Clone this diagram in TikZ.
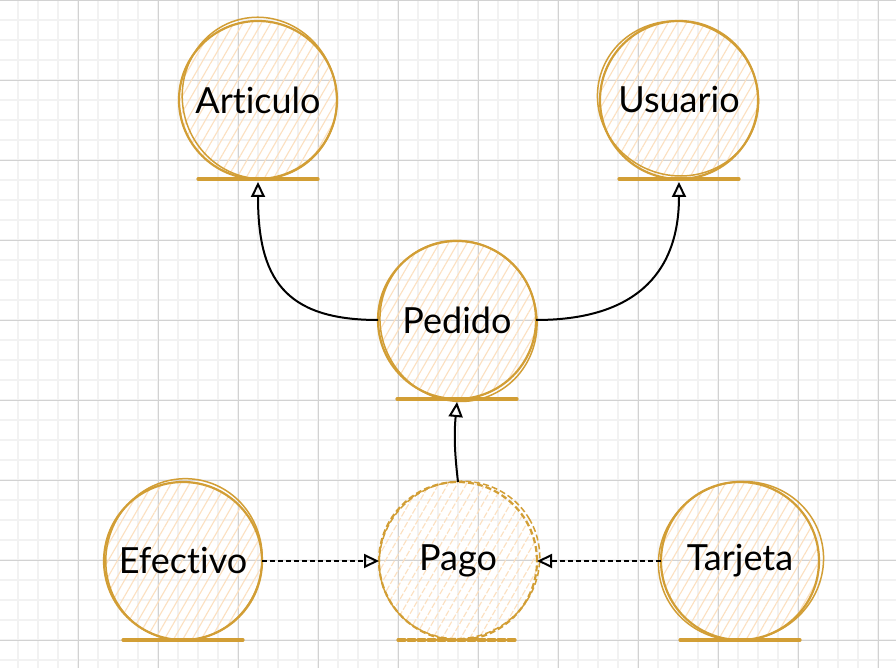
\documentclass[tikz,border=0pt]{standalone}
\usepackage{fontspec}
\setmainfont{Lato}[Ligatures=CommonOff]
\usetikzlibrary{arrows.meta,patterns.meta}
\definecolor{gold}{HTML}{D29E35}
\definecolor{peach}{HTML}{FCE0C0}
\definecolor{gridmin}{HTML}{F2F2F2}
\definecolor{gridmaj}{HTML}{D2D2D2}
\tikzset{
  ent/.style={circle, minimum size=158pt, inner sep=0pt, outer sep=0pt,
    draw=gold, line width=2.2pt,
    pattern={Lines[angle=60,distance=8pt,line width=1.1pt]}, pattern color=peach,
    font=\fontsize{36}{40}\selectfont, text=black},
  sketch/.style={draw=gold, line width=1.5pt},
  baseline/.style={draw=gold, line width=3.2pt, line cap=round},
  conn/.style={draw=black, line width=2pt, -{Triangle[open, length=15pt, width=14pt, line width=2pt]}},
  dconn/.style={conn, dash pattern=on 5pt off 3pt},
}
\begin{document}
\begin{tikzpicture}[x=1pt,y=1pt]
\useasboundingbox (0,0) rectangle (896,668);
\fill[white] (0,0) rectangle (896,668);
% grid
\foreach \x in {18,38,...,878} \draw[gridmin, line width=1.4pt] (\x,0) -- (\x,668);
\foreach \y in {8,28,...,668} \draw[gridmin, line width=1.4pt] (0,\y) -- (896,\y);
\foreach \x in {78,158,...,878} \draw[gridmaj, line width=0.9pt] (\x,0) -- (\x,668);
\foreach \y in {28,108,...,668} \draw[gridmaj, line width=0.9pt] (0,\y) -- (896,\y);

% nodes
\node[ent] (articulo) at (258,568) {Articulo};
\node[ent] (usuario)  at (679,568) {Usuario};
\node[ent] (pedido)   at (457,348) {Pedido};
\node[ent, dash pattern=on 6pt off 3pt] (pago) at (458,107) {Pago};
\node[ent] (efectivo) at (183,107) {Efectivo};
\node[ent] (tarjeta)  at (740,107) {Tarjeta};

% sketchy second strokes
\draw[sketch] ([shift={(1.5,2)}]articulo.center) ellipse [x radius=77, y radius=81, rotate=15];
\draw[sketch] ([shift={(-1,1.5)}]usuario.center) ellipse [x radius=81, y radius=77, rotate=-20];
\draw[sketch] ([shift={(1.5,-1)}]pedido.center) ellipse [x radius=78, y radius=81, rotate=25];
\draw[sketch, dash pattern=on 6pt off 3pt] ([shift={(1.5,1)}]pago.center) ellipse [x radius=81, y radius=78, rotate=30];
\draw[sketch] ([shift={(1,1.5)}]efectivo.center) ellipse [x radius=78, y radius=81, rotate=-15];
\draw[sketch] ([shift={(1,0)}]tarjeta.center) ellipse [x radius=83, y radius=79, rotate=20];

% base lines
\draw[baseline] ([xshift=-60pt]articulo.south) -- ([xshift=60pt]articulo.south);
\draw[baseline] ([xshift=-60pt]usuario.south) -- ([xshift=60pt]usuario.south);
\draw[baseline] ([xshift=-60pt]pedido.south) -- ([xshift=60pt]pedido.south);
\draw[baseline, dash pattern=on 7pt off 3pt] ([xshift=-60pt]pago.south) -- ([xshift=60pt]pago.south);
\draw[baseline] ([xshift=-60pt]efectivo.south) -- ([xshift=60pt]efectivo.south);
\draw[baseline] ([xshift=-60pt]tarjeta.south) -- ([xshift=60pt]tarjeta.south);

% connectors
\draw[conn] (pedido.west) .. controls +(-95,0) and +(0,-95) .. ([yshift=-3pt]articulo.south);
\draw[conn] (pedido.east) .. controls +(95,0) and +(0,-95) .. ([yshift=-3pt]usuario.south);
\draw[conn] (pago.north) to[bend left=6] ([yshift=-3pt]pedido.south);
\draw[dconn] (efectivo.east) -- (pago.west);
\draw[dconn] (tarjeta.west) -- (pago.east);
\end{tikzpicture}
\end{document}
